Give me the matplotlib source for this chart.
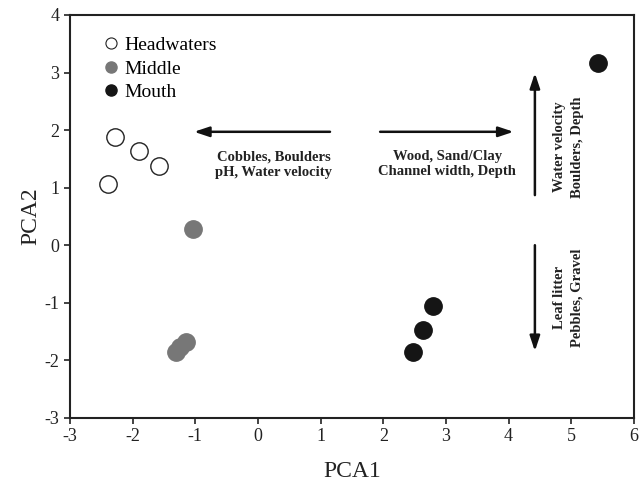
import matplotlib
matplotlib.use("Agg")
import matplotlib.pyplot as plt
from matplotlib.lines import Line2D

plt.rcParams['font.family'] = ['Liberation Serif', 'DejaVu Serif']
plt.rcParams['axes.unicode_minus'] = False

# PCA scores by river section
head_x = [-2.28, -1.90, -1.58, -2.39]
head_y = [1.88, 1.64, 1.38, 1.07]
mid_x = [-1.04, -1.30, -1.25, -1.15]
mid_y = [0.28, -1.85, -1.76, -1.68]
mouth_x = [2.47, 2.63, 2.79, 5.43]
mouth_y = [-1.86, -1.47, -1.05, 3.16]

groups = ["Headwaters", "Middle", "Mouth"]
x_ticks = [-3, -2, -1, 0, 1, 2, 3, 4, 5, 6]
y_ticks = [-3, -2, -1, 0, 1, 2, 3, 4]

fig = plt.figure(figsize=(6.39, 4.82), dpi=100)
ax = fig.add_axes([0.1095, 0.133, 0.8825, 0.836])

ms = 12.5
ax.plot(head_x, head_y, 'o', ms=ms, mfc='white', mec='#222222', mew=1.0, ls='none')
ax.plot(mid_x, mid_y, 'o', ms=ms, mfc='#777777', mec='#777777', ls='none')
ax.plot(mouth_x, mouth_y, 'o', ms=ms, mfc='#151515', mec='#151515', ls='none')

ax.set_xlim(-3, 6)
ax.set_ylim(-3, 4)
ax.set_xticks(x_ticks)
ax.set_yticks(y_ticks)
ax.tick_params(direction='out', length=4, width=1.2, labelsize=13, colors='#222222')
for s in ax.spines.values():
    s.set_linewidth(1.5)
    s.set_color('#222222')
ax.set_xlabel("PCA1", fontsize=17, color='#222222', labelpad=11)
ax.set_ylabel("PCA2", fontsize=17, color='#222222', labelpad=2)

handles = [
    Line2D([], [], marker='o', ls='none', ms=8, mfc='white', mec='#222222', mew=0.8),
    Line2D([], [], marker='o', ls='none', ms=8, mfc='#777777', mec='#777777'),
    Line2D([], [], marker='o', ls='none', ms=8, mfc='#151515', mec='#151515'),
]
ax.legend(handles, groups, loc='upper left', bbox_to_anchor=(0.042, 0.975), frameon=False,
          fontsize=14, handlelength=0.6, handletextpad=0.4, labelspacing=0.3,
          borderaxespad=0.2)

arrow = dict(arrowstyle='-|>,head_length=0.9,head_width=0.3', lw=1.8, color='#111111',
             shrinkA=0, shrinkB=0)
ax.annotate("", xy=(-1.02, 1.97), xytext=(1.15, 1.97), arrowprops=arrow)
ax.annotate("", xy=(4.08, 1.97), xytext=(1.95, 1.97), arrowprops=arrow)
ax.annotate("", xy=(4.42, 2.99), xytext=(4.42, 0.87), arrowprops=arrow)
ax.annotate("", xy=(4.42, -1.84), xytext=(4.42, 0.0), arrowprops=arrow)

tkw = dict(fontsize=10.5, fontweight='bold', color='#222222', ha='center', va='center',
           linespacing=1.2)
ax.text(0.25, 1.40, "Cobbles, Boulders\npH, Water velocity", **tkw)
ax.text(3.02, 1.41, "Wood, Sand/Clay\nChannel width, Depth", **tkw)
rkw = dict(tkw, linespacing=1.45)
ax.text(4.96, 1.71, "Water velocity\nBoulders, Depth", rotation=90, **rkw)
ax.text(4.96, -0.91, "Leaf litter\nPebbles, Gravel", rotation=90, **rkw)

fig.savefig("out.png", dpi=100)
